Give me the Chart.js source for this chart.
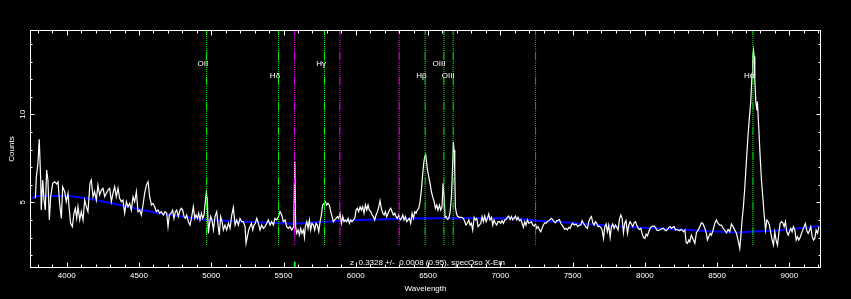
<!DOCTYPE html>
<html><head><meta charset="utf-8">
<script src="https://cdn.jsdelivr.net/npm/chart.js@4.4.1/dist/chart.umd.min.js"></script>
<style>html,body{margin:0;padding:0;background:#000;overflow:hidden}#wrap{width:851px;height:299px;position:relative}</style>
</head><body><div id="wrap"><canvas id="c" width="851" height="299"></canvas></div>
<script>
// ---------- data ----------
const specWave = [
3783,3790,3801,3810,3820,3824,3834,3843,3852,3861,3870,3880,3889,3903,3917,3930,3940,3951,3963,3972,3986,3997,
4009,4018,4027,4039,4050,4060,4069,4078,4090,4101,4113,4124,4136,4147,4161,4170,4182,4193,4205,4216,4228,4240,
4251,4263,4274,4286,4297,4309,4320,4332,4343,4355,4366,4378,4389,4401,4413,4424,4436,4447,4459,4470,4482,4493,
4505,4516,4528,4539,4551,4563,4574,4586,4597,4609,4620,4632,4643,4655,
4669,4680,4692,4701,4710,4722,4733,4742,4752,4761,4772,4784,4793,4802,4812,4821,4830,4842,4853,4865,4876,4886,
4895,4904,4913,4922,4932,4941,4950,4959,4966,4973,4980,4987,4996,5005,5015,5026,5038,5047,5056,5065,5075,5084,
5095,5107,5119,5130,5142,5153,5165,5176,5188,5199,5211,5222,5234,5241,5250,5259,5268,5278,5287,5296,5305,5315,
5326,5338,5349,5361,5372,5384,5395,5407,5418,5430,5441,5453,5465,5476,5488,5499,5511,5522,5534,5545,5557,
5571,5578,5584,5591,5601,5610,5619,5628,5638,5645,5651,5661,5670,5679,5688,5697,5707,5716,5725,5734,5744,5753,
5762,5771,5781,5790,5799,5808,5817,5827,5836,5845,5854,5864,5873,5882,5891,5901,5910,5919,5928,5937,5947,5956,
5965,5974,5984,5993,6002,6011,6020,6030,6039,6048,6057,6067,6076,6085,6094,6104,6113,6122,6131,6140,6150,6159,
6168,6177,6187,6196,6205,6214,6224,6233,6242,6251,6260,6270,6279,6288,6297,6307,6316,6325,6334,6343,6353,6362,
6371,6380,6390,6399,6408,6417,6426,6436,6445,6454,6463,6470,6477,
6484,6496,6507,6514,6523,6532,6542,6551,6560,6569,6579,6588,6597,6604,6611,6618,6625,6634,6643,6652,6662,6669,
6675,6680,6685,6689,6696,6703,6717,6731,6745,6754,6763,6772,6782,6791,6800,6809,6819,6828,6837,6846,6855,6865,
6874,6883,6892,6902,6911,6920,6929,6939,6948,6957,6966,6975,6985,6994,7003,7012,7022,7031,7040,7049,7058,7068,
7077,7086,7095,7105,7114,7123,7132,7142,7151,7160,7169,7178,7188,7197,7206,7215,7225,7234,7243,7252,7261,7271,
7280,7289,7298,7308,7317,7326,7335,7345,7354,7363,7372,7381,7391,
7398,7409,7418,7428,7437,7446,7455,7464,7474,7483,7492,7501,7513,7524,7536,7547,7557,7566,7575,7584,7594,7603,
7612,7621,7631,7640,7649,7658,7667,7677,7686,7695,7704,7714,7723,7732,7741,7750,7760,7769,7778,7787,7797,7806,
7815,7824,7834,7843,7852,7861,7870,7880,7889,7898,7907,7917,7926,7935,7944,7954,7963,7972,7981,7990,8000,8009,
8018,8027,8037,8046,8055,8064,8073,8083,8092,8101,8110,8120,8129,8138,8147,8157,8166,8175,8184,8193,8203,8212,
8221,8230,8240,8249,8258,8267,8277,8286,8295,8304,
8311,8322,8334,8346,8357,8369,8380,8392,8403,8415,8426,8433,8442,8452,8461,8472,8484,8495,8507,8519,8530,8542,
8553,8565,8576,8588,8599,8611,8622,8634,8645,8657,8664,8673,8682,8692,8703,8715,8724,8733,8742,8747,8752,8756,
8761,8768,8775,8779,8789,8798,8807,8816,8825,8835,8844,8853,8862,8872,8881,8890,8899,8908,8918,8927,8936,8945,
8955,8964,8973,8982,8992,9001,9010,9019,9028,9038,9047,9056,9065,9075,9084,9093,9102,9111,9121,9130,9139,9148,
9158,9167,9176,9185,9195,9204
];
const specCounts = [
5.23,6.46,7.22,8.58,6.27,4.56,6.27,5.13,4.56,6.84,6.27,4.00,5.32,6.08,6.17,6.04,6.17,4.94,4.09,5.89,5.61,5.04,
5.51,4.56,3.81,3.62,4.38,4.66,4.09,4.75,4.00,4.47,4.00,5.13,4.75,4.47,6.08,6.27,5.32,5.61,5.13,5.98,5.42,5.70,
5.80,5.32,5.51,5.70,5.80,5.04,5.51,5.89,5.32,5.80,5.23,5.04,5.13,4.38,5.04,4.75,4.94,4.56,5.32,5.04,5.61,4.47,
4.56,4.28,4.85,5.51,5.98,6.17,5.32,4.85,4.94,4.75,4.47,4.56,4.38,4.47,
4.28,4.47,4.38,3.62,4.28,4.38,4.56,4.09,4.47,4.56,4.19,4.56,4.66,4.56,4.19,4.09,4.28,3.90,3.71,4.19,4.75,4.09,
4.28,4.09,4.38,4.00,4.38,4.09,4.28,5.04,5.55,5.13,3.24,3.71,4.19,4.00,3.43,4.19,4.47,3.71,3.14,4.19,3.90,3.43,
3.71,3.43,3.81,3.52,4.28,4.71,3.71,4.00,3.71,4.09,3.90,3.90,3.62,2.67,3.05,3.43,3.62,3.81,3.43,3.71,3.81,4.09,
3.81,3.43,3.71,3.52,3.62,3.81,4.00,3.71,3.90,3.71,4.09,4.00,4.19,4.47,4.28,3.90,4.00,3.62,3.52,3.62,3.43,
3.62,7.31,3.62,3.24,3.43,3.14,3.52,3.24,3.43,3.01,3.62,3.90,3.52,4.00,3.43,3.81,3.71,3.43,3.81,3.71,3.33,3.90,
4.28,4.85,4.94,5.04,4.85,4.94,4.85,4.47,4.19,3.90,4.00,4.09,4.19,4.09,4.38,3.81,4.19,3.90,4.00,3.90,4.09,3.81,
4.00,3.90,4.00,4.09,4.56,4.66,4.47,4.75,4.56,4.75,4.38,4.85,4.56,4.85,4.56,4.47,4.28,4.19,4.00,4.28,4.47,4.75,
5.09,4.66,4.38,4.28,4.47,4.19,4.38,4.56,4.66,4.47,4.28,4.38,4.19,4.09,4.28,4.00,4.09,4.28,4.00,4.19,3.90,4.00,
4.09,3.81,4.38,4.09,4.47,4.38,4.56,4.66,5.04,5.70,6.60,7.20,7.60,
7.69,6.84,6.36,6.08,5.61,5.32,5.04,4.66,4.85,4.56,4.85,4.56,4.75,6.08,5.32,4.15,4.19,4.03,4.09,4.38,5.32,6.84,
8.44,7.97,6.74,4.75,4.38,4.22,4.15,4.15,4.09,3.90,3.71,3.81,4.00,3.71,3.81,3.43,4.15,4.00,4.09,3.62,3.71,3.81,
4.19,3.90,4.22,3.90,4.09,4.34,4.00,4.15,3.71,4.00,3.81,3.71,3.90,3.90,3.81,3.96,3.81,4.00,4.03,4.15,4.22,4.03,
4.19,4.00,4.09,4.22,4.00,4.15,3.96,4.03,3.81,3.58,3.90,3.71,4.00,3.81,3.84,3.90,3.71,3.65,3.77,3.52,3.62,3.43,
3.33,3.52,3.71,3.84,3.81,3.90,3.96,4.03,4.09,4.00,3.90,3.84,3.96,
3.96,4.03,3.81,3.71,3.58,3.46,3.52,3.43,3.58,3.52,3.71,3.81,3.71,3.77,3.62,3.71,3.71,3.96,3.81,3.71,3.58,3.52,
3.90,4.09,4.19,3.84,3.71,3.90,3.81,3.62,3.65,3.58,3.43,2.95,3.62,3.77,3.33,3.71,3.01,3.62,3.77,3.52,3.71,3.58,
3.43,4.03,4.28,4.09,3.27,3.81,3.96,3.24,3.71,3.90,3.77,3.62,3.84,3.90,3.71,3.52,3.46,3.52,3.24,3.01,2.95,3.20,
3.09,3.33,3.52,3.62,3.65,3.65,3.58,3.43,3.39,3.43,3.46,3.52,3.52,3.43,3.39,3.46,3.58,3.62,3.52,3.58,3.62,3.43,
3.46,3.43,3.39,3.46,3.43,3.33,3.43,2.71,2.67,2.86,
2.76,3.14,2.90,2.67,3.27,3.42,3.62,3.84,3.77,3.52,3.24,2.86,3.05,3.24,3.14,3.42,3.80,4.00,3.80,3.71,3.71,3.52,
3.42,3.27,3.46,3.33,3.77,3.62,3.42,3.24,2.86,2.38,3.05,4.00,4.75,5.89,7.40,8.92,9.87,10.72,12.33,13.28,13.62,13.28,
11.95,10.72,10.24,10.72,9.11,7.59,6.27,5.32,4.37,3.42,4.00,3.90,3.71,3.24,2.86,2.57,3.33,2.86,2.57,3.24,3.80,3.90,
3.84,3.62,3.90,3.33,3.14,3.33,3.52,3.33,3.62,3.42,2.86,3.05,2.86,3.01,3.24,3.42,3.62,3.80,3.39,3.24,3.39,3.62,
3.05,2.86,2.95,3.42,3.24,3.62
];
const contWave   = [3746, 3750, 3790, 4009, 4170, 4332, 4470, 4655, 4969, 5568, 5790, 6020, 6482, 7095, 7257, 7395, 7848, 8309, 8645, 8715, 8899, 9061, 9212];
const contCounts = [5.22, 5.23, 5.36, 5.38, 5.19, 4.90, 4.66, 4.35, 4.00, 3.78, 3.90, 4.00, 4.09, 4.09, 3.96, 3.90, 3.62, 3.43, 3.27, 3.33, 3.39, 3.52, 3.66];
const emLineWave = [4968, 5466, 5784, 6480, 6610, 6674, 8748];
const emLineName = ['OII', 'Hδ', 'Hγ', 'Hβ', 'OIII', 'OIII', 'Hα'];
const emLabelRow = [0, 1, 0, 1, 0, 1, 1];
const skyLineWave = [5577, 5890, 6300, 7244];
const markerWave = [5578];
const lineBottom = 2.57;
const xTickValues = [4000, 4500, 5000, 5500, 6000, 6500, 7000, 7500, 8000, 8500, 9000];
const xMinorStep = 100;
const yTickValues = [5, 10];
const yMinorStep = 1;
const xRange = [3746, 9212];
const yRange = [1.27, 14.79];
const redshiftText = 'z  0.3328 +/-  0.0008 (0.95), specQso X-Em';
const xTitle = 'Wavelength';
const yTitle = 'Counts';

// ---------- chart ----------
const FONT = '8px "Liberation Sans", Arial, sans-serif';
const GREEN = '#00ff00', MAGENTA = '#ff00ff', BLUE = '#0000ff';
const DASH = [8,1,1,1,1,1,1,1,1,1,1,1,1,1,1,1,1,1];

const datasets = [];
emLineWave.forEach(w => datasets.push({
  data: [{x: w, y: yRange[1]}, {x: w, y: lineBottom}],
  borderColor: GREEN, borderWidth: 1, borderDash: DASH, borderDashOffset: 3,
  pointRadius: 0, order: 0
}));
skyLineWave.forEach(w => datasets.push({
  data: [{x: w, y: yRange[1]}, {x: w, y: lineBottom}],
  borderColor: MAGENTA, borderWidth: 1, borderDash: DASH, borderDashOffset: 3,
  pointRadius: 0, order: 0
}));
markerWave.forEach(w => datasets.push({
  data: [{x: w, y: yRange[0]}, {x: w, y: 1.63}],
  borderColor: GREEN, borderWidth: 2, pointRadius: 0, order: 0
}));
datasets.push({
  data: specWave.map((w, i) => ({x: w, y: specCounts[i]})),
  borderColor: '#ffffff', borderWidth: 1.2, pointRadius: 0, order: 1
});
datasets.push({
  data: contWave.map((w, i) => ({x: w, y: contCounts[i]})),
  borderColor: BLUE, borderWidth: 2, pointRadius: 0, order: 2
});

const framePlugin = {
  id: 'frame',
  beforeDraw(chart) {
    const c = chart.ctx;
    c.save(); c.fillStyle = '#000'; c.fillRect(0, 0, chart.width, chart.height); c.restore();
  },
  afterDatasetsDraw(chart) {
    const {ctx, chartArea: a, scales: {x, y}} = chart;
    ctx.save();
    ctx.strokeStyle = '#fff'; ctx.lineWidth = 1;
    const L = Math.round(a.left) + 0.5, R = Math.round(a.right) + 0.5;
    const T = Math.round(a.top) + 0.5, B = Math.round(a.bottom) - 0.5;
    ctx.strokeRect(L, T, R - L, B - T);
    ctx.beginPath();
    for (let v = Math.ceil(x.min / xMinorStep) * xMinorStep; v <= x.max; v += xMinorStep) {
      const px = Math.round(x.getPixelForValue(v)) + 0.5;
      const len = xTickValues.includes(v) ? 5 : 3;
      ctx.moveTo(px, T); ctx.lineTo(px, T + len);
      ctx.moveTo(px, B); ctx.lineTo(px, B - len);
    }
    for (let v = Math.ceil(y.min / yMinorStep) * yMinorStep; v <= y.max; v += yMinorStep) {
      const py = Math.round(y.getPixelForValue(v)) + 0.5;
      const len = yTickValues.includes(v) ? 4 : 2;
      ctx.moveTo(L, py); ctx.lineTo(L + len, py);
      ctx.moveTo(R, py); ctx.lineTo(R - len, py);
    }
    ctx.stroke();

    ctx.fillStyle = '#fff'; ctx.font = FONT;
    ctx.textAlign = 'center'; ctx.textBaseline = 'middle';
    xTickValues.forEach(v => ctx.fillText(String(v), x.getPixelForValue(v), B + 8));
    yTickValues.forEach(v => {
      ctx.save(); ctx.translate(L - 7.5, y.getPixelForValue(v)); ctx.rotate(-Math.PI / 2);
      ctx.fillText(String(v), 0, 0); ctx.restore();
    });
    ctx.fillText(xTitle, (L + R) / 2, 289);
    ctx.save(); ctx.translate(11.5, (T + B) / 2); ctx.rotate(-Math.PI / 2);
    ctx.fillText(yTitle, 0, 0); ctx.restore();
    ctx.fillText(redshiftText, (L + R) / 2 + 2, B - 5);

    ctx.textAlign = 'right';
    emLineWave.forEach((w, i) => {
      ctx.fillText(emLineName[i], x.getPixelForValue(w) + 1.5, a.top + (emLabelRow[i] ? 46 : 34));
    });
    ctx.restore();
  }
};

new Chart(document.getElementById('c'), {
  type: 'line',
  data: {datasets},
  options: {
    responsive: false, animation: false, devicePixelRatio: 1,
    layout: {padding: {left: 30, top: 30, right: 31, bottom: 31}},
    plugins: {legend: {display: false}, tooltip: {enabled: false}},
    elements: {line: {tension: 0}},
    scales: {
      x: {type: 'linear', min: xRange[0], max: xRange[1], display: false},
      y: {type: 'linear', min: yRange[0], max: yRange[1], display: false}
    }
  },
  plugins: [framePlugin]
});
</script>
</body></html>
